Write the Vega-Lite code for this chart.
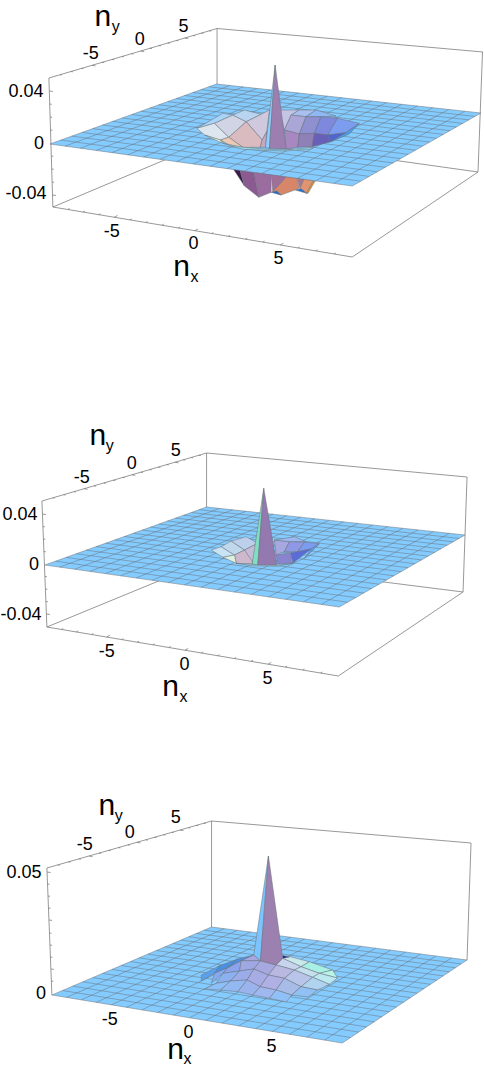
{"$schema":"https://vega.github.io/schema/vega-lite/v6.json","width":484,"height":1067,"padding":0,"autosize":{"type":"fit","contains":"padding"},"config":{"view":{"stroke":null}},
"datasets":{
"frame":[
{"x":49,"y":78,"x2":217.5,"y2":28.5},{"x":217.5,"y":28.5,"x2":484,"y2":52},{"x":217.5,"y":28.5,"x2":217.5,"y2":84},{"x":49,"y":78,"x2":53,"y2":207},{"x":483.5,"y":52,"x2":479,"y2":172},{"x":53,"y":207,"x2":353,"y2":257},{"x":353,"y":257,"x2":479,"y2":172},{"x":53,"y":207,"x2":222,"y2":136},{"x":222,"y":136,"x2":479,"y2":172},
{"x":42,"y":501,"x2":207,"y2":453},{"x":207,"y":453,"x2":468,"y2":477},{"x":207,"y":453,"x2":207,"y2":507},{"x":42,"y":501,"x2":47,"y2":627},{"x":468,"y":477,"x2":464,"y2":592},{"x":47,"y":627,"x2":339,"y2":676},{"x":339,"y":676,"x2":464,"y2":592},{"x":47,"y":627,"x2":210,"y2":560},{"x":210,"y":560,"x2":464,"y2":592},
{"x":47,"y":868,"x2":212,"y2":821},{"x":212,"y":821,"x2":472,"y2":843},{"x":212,"y":821,"x2":212,"y2":927},{"x":47,"y":868,"x2":52,"y2":995},{"x":472,"y":843,"x2":468,"y2":960},
{"x":68,"y":209.5,"x2":69.8,"y2":208.5},{"x":83.3,"y":212.1,"x2":85.1,"y2":211.1},{"x":98.9,"y":214.7,"x2":100.7,"y2":213.7},{"x":114.5,"y":217.3,"x2":117.7,"y2":215.5},{"x":130.1,"y":219.9,"x2":131.9,"y2":218.9},{"x":146,"y":222.5,"x2":147.8,"y2":221.5},{"x":162.2,"y":225.2,"x2":164,"y2":224.2},{"x":178.7,"y":228,"x2":180.5,"y2":227},{"x":195.2,"y":230.7,"x2":198.4,"y2":228.9},{"x":212,"y":233.5,"x2":213.8,"y2":232.5},{"x":228.8,"y":236.3,"x2":230.6,"y2":235.3},{"x":245.9,"y":239.2,"x2":247.7,"y2":238.2},{"x":263.3,"y":242.1,"x2":265.1,"y2":241.1},{"x":280.7,"y":245,"x2":283.9,"y2":243.2},{"x":298.4,"y":247.9,"x2":300.2,"y2":246.9},{"x":316.4,"y":250.9,"x2":318.2,"y2":249.9},{"x":334.7,"y":254,"x2":336.5,"y2":253},
{"x":61.6,"y":629.5,"x2":63.4,"y2":628.5},{"x":76.5,"y":631.9,"x2":78.3,"y2":630.9},{"x":91.7,"y":634.5,"x2":93.5,"y2":633.5},{"x":106.9,"y":637,"x2":110.1,"y2":635.2},{"x":122,"y":639.6,"x2":123.8,"y2":638.6},{"x":137.5,"y":642.2,"x2":139.3,"y2":641.2},{"x":153.3,"y":644.8,"x2":155.1,"y2":643.8},{"x":169.3,"y":647.5,"x2":171.1,"y2":646.5},{"x":185.4,"y":650.2,"x2":188.6,"y2":648.4},{"x":201.8,"y":653,"x2":203.6,"y2":652},{"x":218.1,"y":655.7,"x2":219.9,"y2":654.7},{"x":234.8,"y":658.5,"x2":236.6,"y2":657.5},{"x":251.7,"y":661.3,"x2":253.5,"y2":660.3},{"x":268.6,"y":664.2,"x2":271.8,"y2":662.4},{"x":285.9,"y":667.1,"x2":287.7,"y2":666.1},{"x":303.4,"y":670,"x2":305.2,"y2":669},{"x":321.2,"y":673,"x2":323,"y2":672},
{"x":60.1,"y":74.7,"x2":62.1,"y2":75},{"x":71.1,"y":71.5,"x2":73.1,"y2":71.8},{"x":81.7,"y":68.4,"x2":83.7,"y2":68.7},{"x":92.1,"y":65.3,"x2":95.6,"y2":65.9},{"x":102.4,"y":62.3,"x2":104.4,"y2":62.6},{"x":112.4,"y":59.4,"x2":114.4,"y2":59.7},{"x":122.1,"y":56.5,"x2":124.1,"y2":56.8},{"x":131.7,"y":53.7,"x2":133.7,"y2":54},{"x":141,"y":51,"x2":144.5,"y2":51.6},{"x":150.3,"y":48.2,"x2":152.3,"y2":48.5},{"x":159.2,"y":45.6,"x2":161.2,"y2":45.9},{"x":168.1,"y":43,"x2":170.1,"y2":43.3},{"x":176.7,"y":40.5,"x2":178.7,"y2":40.8},{"x":185.1,"y":38,"x2":188.6,"y2":38.6},{"x":193.6,"y":35.5,"x2":195.6,"y2":35.8},{"x":201.7,"y":33.1,"x2":203.7,"y2":33.4},{"x":209.6,"y":30.8,"x2":211.6,"y2":31.1},
{"x":52.9,"y":497.8,"x2":54.9,"y2":498.1},{"x":63.6,"y":494.7,"x2":65.6,"y2":495},{"x":74,"y":491.7,"x2":76,"y2":492},{"x":84.2,"y":488.7,"x2":87.7,"y2":489.3},{"x":94.3,"y":485.8,"x2":96.3,"y2":486.1},{"x":104,"y":483,"x2":106,"y2":483.3},{"x":113.6,"y":480.2,"x2":115.6,"y2":480.5},{"x":123,"y":477.4,"x2":125,"y2":477.7},{"x":132.1,"y":474.8,"x2":135.6,"y2":475.4},{"x":141.2,"y":472.2,"x2":143.2,"y2":472.5},{"x":149.9,"y":469.6,"x2":151.9,"y2":469.9},{"x":158.7,"y":467.1,"x2":160.7,"y2":467.4},{"x":167.1,"y":464.6,"x2":169.1,"y2":464.9},{"x":175.3,"y":462.2,"x2":178.8,"y2":462.8},{"x":183.6,"y":459.8,"x2":185.6,"y2":460.1},{"x":191.5,"y":457.5,"x2":193.5,"y2":457.8},{"x":199.2,"y":455.3,"x2":201.2,"y2":455.6},
{"x":57.9,"y":864.9,"x2":59.9,"y2":865.2},{"x":68.6,"y":861.8,"x2":70.6,"y2":862.1},{"x":79,"y":858.9,"x2":81,"y2":859.2},{"x":89.2,"y":856,"x2":92.7,"y2":856.6},{"x":99.3,"y":853.1,"x2":101.3,"y2":853.4},{"x":109,"y":850.3,"x2":111,"y2":850.6},{"x":118.6,"y":847.6,"x2":120.6,"y2":847.9},{"x":128,"y":844.9,"x2":130,"y2":845.2},{"x":137.1,"y":842.3,"x2":140.6,"y2":842.9},{"x":146.2,"y":839.8,"x2":148.2,"y2":840.1},{"x":154.9,"y":837.3,"x2":156.9,"y2":837.6},{"x":163.7,"y":834.8,"x2":165.7,"y2":835.1},{"x":172.1,"y":832.4,"x2":174.1,"y2":832.7},{"x":180.3,"y":830,"x2":183.8,"y2":830.6},{"x":188.6,"y":827.7,"x2":190.6,"y2":828},{"x":196.5,"y":825.4,"x2":198.5,"y2":825.7},{"x":204.2,"y":823.2,"x2":206.2,"y2":823.5},
{"x":49.4,"y":91,"x2":52.9,"y2":91.5},{"x":49.8,"y":104,"x2":51.8,"y2":104.3},{"x":50.2,"y":117,"x2":52.2,"y2":117.3},{"x":50.6,"y":130,"x2":52.6,"y2":130.3},{"x":51.4,"y":156,"x2":53.4,"y2":156.3},{"x":51.8,"y":169,"x2":53.8,"y2":169.3},{"x":52.2,"y":182,"x2":54.2,"y2":182.3},{"x":52.6,"y":195,"x2":56.1,"y2":195.5},
{"x":42.5,"y":514,"x2":46,"y2":514.5},{"x":42.9,"y":526.5,"x2":44.9,"y2":526.8},{"x":43.4,"y":539,"x2":45.4,"y2":539.3},{"x":43.9,"y":551.5,"x2":45.9,"y2":551.8},{"x":45,"y":576.5,"x2":47,"y2":576.8},{"x":45.5,"y":589,"x2":47.5,"y2":589.3},{"x":46,"y":601.5,"x2":48,"y2":601.8},{"x":46.5,"y":614,"x2":50,"y2":614.5},
{"x":47.2,"y":872,"x2":50.7,"y2":872.5},{"x":47.6,"y":884,"x2":49.6,"y2":884.3},{"x":48.1,"y":896,"x2":50.1,"y2":896.3},{"x":48.6,"y":908,"x2":50.6,"y2":908.3},{"x":49.1,"y":920,"x2":52.1,"y2":920.4},{"x":49.6,"y":933,"x2":51.6,"y2":933.3},{"x":50.1,"y":945,"x2":52.1,"y2":945.3},{"x":50.5,"y":957,"x2":52.5,"y2":957.3},{"x":51,"y":969,"x2":54,"y2":969.4},{"x":51.5,"y":981,"x2":53.5,"y2":981.3}
],
"back":[
{"p":"h01","i":0,"x":233.3,"y":168.3},{"p":"h01","i":1,"x":240,"y":168.3},{"p":"h01","i":2,"x":245,"y":186},
{"p":"h02","i":0,"x":240,"y":168.3},{"p":"h02","i":1,"x":254,"y":170},{"p":"h02","i":2,"x":259.3,"y":197.3},{"p":"h02","i":3,"x":245,"y":186},
{"p":"h03","i":0,"x":254,"y":170},{"p":"h03","i":1,"x":271.7,"y":173.3},{"p":"h03","i":2,"x":271.7,"y":192.3},{"p":"h03","i":3,"x":259.3,"y":197.3},
{"p":"h04","i":0,"x":271.7,"y":173.3},{"p":"h04","i":1,"x":287.3,"y":176.7},{"p":"h04","i":2,"x":273.3,"y":191.7},
{"p":"h05","i":0,"x":287.3,"y":176.7},{"p":"h05","i":1,"x":296.7,"y":176.7},{"p":"h05","i":2,"x":300,"y":188.3},{"p":"h05","i":3,"x":281.7,"y":195},{"p":"h05","i":4,"x":273.3,"y":191.7},
{"p":"h06","i":0,"x":296.7,"y":175},{"p":"h06","i":1,"x":305,"y":178.3},{"p":"h06","i":2,"x":300.7,"y":188.3},
{"p":"h07","i":0,"x":305,"y":178.3},{"p":"h07","i":1,"x":314,"y":180.7},{"p":"h07","i":2,"x":307.3,"y":193.3},{"p":"h07","i":3,"x":300.7,"y":188.3},
{"p":"h08","i":0,"x":271.7,"y":192.3},{"p":"h08","i":1,"x":277.3,"y":191},{"p":"h08","i":2,"x":281.7,"y":195},
{"p":"h09","i":0,"x":296,"y":190},{"p":"h09","i":1,"x":301.7,"y":188.7},{"p":"h09","i":2,"x":307.3,"y":193.3},
{"p":"h10","i":0,"x":314,"y":180.7},{"p":"h10","i":1,"x":316,"y":180.7},{"p":"h10","i":2,"x":308.7,"y":193.3},{"p":"h10","i":3,"x":307.3,"y":193.3},
{"p":"s1","i":0,"x":50,"y":144},{"p":"s1","i":1,"x":217,"y":84},{"p":"s1","i":2,"x":482,"y":113},{"p":"s1","i":3,"x":353,"y":186},
{"p":"s2","i":0,"x":45,"y":565},{"p":"s2","i":1,"x":207,"y":507},{"p":"s2","i":2,"x":466,"y":535},{"p":"s2","i":3,"x":340,"y":607},
{"p":"s3","i":0,"x":52,"y":995},{"p":"s3","i":1,"x":212,"y":927},{"p":"s3","i":2,"x":468,"y":960},{"p":"s3","i":3,"x":343,"y":1043}
],
"grid":[
{"x":65.2,"y":146.1,"x2":230.3,"y2":85.5},{"x":80.6,"y":148.2,"x2":243.8,"y2":86.9},{"x":96.4,"y":150.4,"x2":257.5,"y2":88.4},{"x":112.1,"y":152.6,"x2":271.3,"y2":89.9},{"x":127.9,"y":154.8,"x2":285.1,"y2":91.5},{"x":143.9,"y":157,"x2":299.2,"y2":93},{"x":160.3,"y":159.3,"x2":313.5,"y2":94.6},{"x":177,"y":161.6,"x2":328,"y2":96.2},{"x":193.6,"y":163.9,"x2":342.6,"y2":97.7},{"x":210.6,"y":166.3,"x2":357.5,"y2":99.4},{"x":227.6,"y":168.6,"x2":372.3,"y2":101},{"x":244.8,"y":171,"x2":387.4,"y2":102.6},{"x":262.4,"y":173.4,"x2":402.8,"y2":104.3},{"x":280,"y":175.9,"x2":418.1,"y2":106},{"x":297.9,"y":178.4,"x2":433.8,"y2":107.7},{"x":316,"y":180.9,"x2":449.7,"y2":109.5},{"x":334.5,"y":183.4,"x2":465.8,"y2":111.2},
{"x":61,"y":140,"x2":361.5,"y2":181.2},{"x":71.9,"y":136.1,"x2":369.9,"y2":176.4},{"x":82.4,"y":132.4,"x2":378,"y2":171.8},{"x":92.8,"y":128.6,"x2":386,"y2":167.3},{"x":102.9,"y":125,"x2":393.9,"y2":162.9},{"x":112.8,"y":121.4,"x2":401.5,"y2":158.6},{"x":122.5,"y":118,"x2":409,"y2":154.3},{"x":132,"y":114.5,"x2":416.3,"y2":150.2},{"x":141.2,"y":111.2,"x2":423.4,"y2":146.1},{"x":150.4,"y":107.9,"x2":430.5,"y2":142.1},{"x":159.2,"y":104.8,"x2":437.4,"y2":138.3},{"x":168.1,"y":101.6,"x2":444.2,"y2":134.4},{"x":176.6,"y":98.5,"x2":450.8,"y2":130.7},{"x":184.9,"y":95.5,"x2":457.2,"y2":127},{"x":193.3,"y":92.5,"x2":463.7,"y2":123.4},{"x":201.3,"y":89.6,"x2":469.9,"y2":119.9},{"x":209.2,"y":86.8,"x2":475.9,"y2":116.4},
{"x":59.8,"y":567.1,"x2":220,"y2":508.4},{"x":74.8,"y":569.2,"x2":233.2,"y2":509.8},{"x":90.1,"y":571.4,"x2":246.6,"y2":511.3},{"x":105.5,"y":573.6,"x2":260.1,"y2":512.7},{"x":120.8,"y":575.8,"x2":273.6,"y2":514.2},{"x":136.5,"y":578,"x2":287.3,"y2":515.7},{"x":152.4,"y":580.3,"x2":301.3,"y2":517.2},{"x":168.6,"y":582.6,"x2":315.5,"y2":518.7},{"x":184.8,"y":584.9,"x2":329.8,"y2":520.3},{"x":201.4,"y":587.3,"x2":344.3,"y2":521.8},{"x":217.9,"y":589.6,"x2":358.8,"y2":523.4},{"x":234.7,"y":592,"x2":373.5,"y2":525},{"x":251.8,"y":594.4,"x2":388.6,"y2":526.6},{"x":268.9,"y":596.9,"x2":403.6,"y2":528.3},{"x":286.3,"y":599.4,"x2":418.9,"y2":529.9},{"x":304,"y":601.9,"x2":434.4,"y2":531.6},{"x":322,"y":604.4,"x2":450.2,"y2":533.3},
{"x":55.7,"y":561.2,"x2":348.3,"y2":602.2},{"x":66.2,"y":557.4,"x2":356.5,"y2":597.6},{"x":76.4,"y":553.7,"x2":364.4,"y2":593},{"x":86.5,"y":550.2,"x2":372.3,"y2":588.6},{"x":96.4,"y":546.6,"x2":379.9,"y2":584.2},{"x":105.9,"y":543.2,"x2":387.4,"y2":579.9},{"x":115.3,"y":539.8,"x2":394.7,"y2":575.8},{"x":124.5,"y":536.5,"x2":401.9,"y2":571.6},{"x":133.5,"y":533.3,"x2":408.8,"y2":567.7},{"x":142.4,"y":530.1,"x2":415.7,"y2":563.7},{"x":150.9,"y":527.1,"x2":422.4,"y2":559.9},{"x":159.5,"y":524,"x2":429.1,"y2":556.1},{"x":167.8,"y":521,"x2":435.5,"y2":552.4},{"x":175.9,"y":518.1,"x2":441.8,"y2":548.8},{"x":184,"y":515.2,"x2":448.1,"y2":545.2},{"x":191.8,"y":512.5,"x2":454.2,"y2":541.8},{"x":199.4,"y":509.7,"x2":460.1,"y2":538.4},
{"x":66.6,"y":997.4,"x2":224.8,"y2":928.7},{"x":81.4,"y":999.8,"x2":237.9,"y2":930.3},{"x":96.5,"y":1002.3,"x2":251.2,"y2":932},{"x":111.7,"y":1004.8,"x2":264.5,"y2":933.8},{"x":126.8,"y":1007.3,"x2":277.8,"y2":935.5},{"x":142.2,"y":1009.9,"x2":291.4,"y2":937.2},{"x":157.9,"y":1012.5,"x2":305.2,"y2":939},{"x":173.9,"y":1015.1,"x2":319.3,"y2":940.8},{"x":189.9,"y":1017.8,"x2":333.3,"y2":942.6},{"x":206.2,"y":1020.4,"x2":347.7,"y2":944.5},{"x":222.5,"y":1023.1,"x2":362,"y2":946.3},{"x":239.1,"y":1025.9,"x2":376.6,"y2":948.2},{"x":256,"y":1028.6,"x2":391.5,"y2":950.1},{"x":272.9,"y":1031.4,"x2":406.3,"y2":952},{"x":290,"y":1034.3,"x2":421.4,"y2":954},{"x":307.5,"y":1037.1,"x2":436.8,"y2":956},{"x":325.2,"y":1040.1,"x2":452.4,"y2":958},
{"x":62.6,"y":990.5,"x2":351.3,"y2":1037.5},{"x":73,"y":986.1,"x2":359.4,"y2":1032.1},{"x":83,"y":981.8,"x2":367.3,"y2":1026.9},{"x":93,"y":977.6,"x2":375,"y2":1021.8},{"x":102.7,"y":973.4,"x2":382.6,"y2":1016.7},{"x":112.2,"y":969.4,"x2":390,"y2":1011.8},{"x":121.4,"y":965.5,"x2":397.3,"y2":1007},{"x":130.6,"y":961.6,"x2":404.4,"y2":1002.2},{"x":139.4,"y":957.9,"x2":411.3,"y2":997.7},{"x":148.2,"y":954.1,"x2":418.1,"y2":993.1},{"x":156.6,"y":950.5,"x2":424.8,"y2":988.7},{"x":165.1,"y":946.9,"x2":431.4,"y2":984.3},{"x":173.3,"y":943.5,"x2":437.8,"y2":980.1},{"x":181.3,"y":940.1,"x2":444,"y2":975.9},{"x":189.3,"y":936.7,"x2":450.3,"y2":971.8},{"x":197,"y":933.4,"x2":456.3,"y2":967.8},{"x":204.5,"y":930.2,"x2":462.1,"y2":963.9}
],
"top":[
{"p":"a00","i":0,"x":197.3,"y":128.3},{"p":"a00","i":1,"x":223.3,"y":113.3},{"p":"a00","i":2,"x":233.3,"y":115},{"p":"a00","i":3,"x":215,"y":123.3},
{"p":"a01","i":0,"x":197.3,"y":128.3},{"p":"a01","i":1,"x":215,"y":123.3},{"p":"a01","i":2,"x":229.3,"y":137.3},{"p":"a01","i":3,"x":220.7,"y":140},{"p":"a01","i":4,"x":205,"y":135},
{"p":"a02","i":0,"x":215,"y":123.3},{"p":"a02","i":1,"x":233.3,"y":115},{"p":"a02","i":2,"x":246.7,"y":121.7},{"p":"a02","i":3,"x":229.3,"y":137.3},
{"p":"a03","i":0,"x":233.3,"y":115},{"p":"a03","i":1,"x":245,"y":110},{"p":"a03","i":2,"x":261.7,"y":114.3},{"p":"a03","i":3,"x":246.7,"y":121.7},
{"p":"a04","i":0,"x":246.7,"y":121.7},{"p":"a04","i":1,"x":261.7,"y":114.3},{"p":"a04","i":2,"x":270,"y":110},{"p":"a04","i":3,"x":267.3,"y":131.7},{"p":"a04","i":4,"x":262.7,"y":140},
{"p":"a05","i":0,"x":229.3,"y":137.3},{"p":"a05","i":1,"x":246.7,"y":121.7},{"p":"a05","i":2,"x":262.7,"y":140},{"p":"a05","i":3,"x":260.7,"y":147.3},{"p":"a05","i":4,"x":243.3,"y":147.3},
{"p":"a06","i":0,"x":220.7,"y":140},{"p":"a06","i":1,"x":229.3,"y":137.3},{"p":"a06","i":2,"x":243.3,"y":147.3},{"p":"a06","i":3,"x":230,"y":145},
{"p":"a07","i":0,"x":205,"y":135},{"p":"a07","i":1,"x":220.7,"y":140},{"p":"a07","i":2,"x":223.3,"y":143.3},
{"p":"a08","i":0,"x":260.7,"y":147.3},{"p":"a08","i":1,"x":262.7,"y":140},{"p":"a08","i":2,"x":267.3,"y":131.7},{"p":"a08","i":3,"x":266,"y":147.3},
{"p":"a09","i":0,"x":280,"y":110},{"p":"a09","i":1,"x":300,"y":110},{"p":"a09","i":2,"x":291.7,"y":115},{"p":"a09","i":3,"x":285,"y":130},
{"p":"a10","i":0,"x":291.7,"y":115},{"p":"a10","i":1,"x":300,"y":110},{"p":"a10","i":2,"x":316.7,"y":110},{"p":"a10","i":3,"x":306.7,"y":116.7},
{"p":"a11","i":0,"x":316.7,"y":110},{"p":"a11","i":1,"x":336.7,"y":116},{"p":"a11","i":2,"x":321.7,"y":116.7},{"p":"a11","i":3,"x":306.7,"y":116.7},
{"p":"a12","i":0,"x":285,"y":130},{"p":"a12","i":1,"x":291.7,"y":115},{"p":"a12","i":2,"x":306.7,"y":116.7},{"p":"a12","i":3,"x":300,"y":134},
{"p":"a13","i":0,"x":306.7,"y":116.7},{"p":"a13","i":1,"x":321.7,"y":116.7},{"p":"a13","i":2,"x":315,"y":133.3},{"p":"a13","i":3,"x":300,"y":134},
{"p":"a14","i":0,"x":321.7,"y":116.7},{"p":"a14","i":1,"x":338.3,"y":118.3},{"p":"a14","i":2,"x":328.3,"y":135},{"p":"a14","i":3,"x":315,"y":133.3},
{"p":"a15","i":0,"x":338.3,"y":118.3},{"p":"a15","i":1,"x":360,"y":123.3},{"p":"a15","i":2,"x":346.7,"y":132.7},{"p":"a15","i":3,"x":328.3,"y":135},
{"p":"a16","i":0,"x":285,"y":130},{"p":"a16","i":1,"x":300,"y":134},{"p":"a16","i":2,"x":298.3,"y":147.3},{"p":"a16","i":3,"x":286.7,"y":149},
{"p":"a17","i":0,"x":300,"y":134},{"p":"a17","i":1,"x":315,"y":133.3},{"p":"a17","i":2,"x":312.7,"y":146.7},{"p":"a17","i":3,"x":298.3,"y":147.3},
{"p":"a18","i":0,"x":315,"y":133.3},{"p":"a18","i":1,"x":328.3,"y":135},{"p":"a18","i":2,"x":331.7,"y":141.7},{"p":"a18","i":3,"x":312.7,"y":146.7},
{"p":"a19","i":0,"x":328.3,"y":135},{"p":"a19","i":1,"x":346.7,"y":132.7},{"p":"a19","i":2,"x":331.7,"y":141.7},
{"p":"a20","i":0,"x":331.7,"y":141.7},{"p":"a20","i":1,"x":346.7,"y":132.7},{"p":"a20","i":2,"x":360,"y":123.3},{"p":"a20","i":3,"x":350,"y":134},
{"p":"a21","i":0,"x":223.3,"y":143.3},{"p":"a21","i":1,"x":243.3,"y":147.3},{"p":"a21","i":2,"x":270,"y":149.3},{"p":"a21","i":3,"x":286.7,"y":150},{"p":"a21","i":4,"x":312.7,"y":147.3},{"p":"a21","i":5,"x":312.7,"y":148.7},{"p":"a21","i":6,"x":286.7,"y":151},{"p":"a21","i":7,"x":243.3,"y":149.3},
{"p":"a22","i":0,"x":275.7,"y":65},{"p":"a22","i":1,"x":266,"y":147.3},{"p":"a22","i":2,"x":270,"y":148.3},
{"p":"a23","i":0,"x":275.7,"y":65},{"p":"a23","i":1,"x":270,"y":148.3},{"p":"a23","i":2,"x":286.7,"y":149},
{"p":"b01","i":0,"x":211.7,"y":550},{"p":"b01","i":1,"x":221.7,"y":546.7},{"p":"b01","i":2,"x":235,"y":555},{"p":"b01","i":3,"x":223.3,"y":557.3},
{"p":"b02","i":0,"x":221.7,"y":546.7},{"p":"b02","i":1,"x":231.7,"y":541},{"p":"b02","i":2,"x":245,"y":550},{"p":"b02","i":3,"x":235,"y":555},
{"p":"b03","i":0,"x":231.7,"y":541},{"p":"b03","i":1,"x":246.7,"y":536.7},{"p":"b03","i":2,"x":258.3,"y":543.3},{"p":"b03","i":3,"x":245,"y":550},
{"p":"b04","i":0,"x":235,"y":555},{"p":"b04","i":1,"x":245,"y":550},{"p":"b04","i":2,"x":253.3,"y":560},{"p":"b04","i":3,"x":252.7,"y":564},{"p":"b04","i":4,"x":236.7,"y":563.3},
{"p":"b05","i":0,"x":245,"y":550},{"p":"b05","i":1,"x":258.3,"y":543.3},{"p":"b05","i":2,"x":253.3,"y":562},
{"p":"b06","i":0,"x":223.3,"y":557.3},{"p":"b06","i":1,"x":235,"y":555},{"p":"b06","i":2,"x":236.7,"y":563.3},
{"p":"b07","i":0,"x":275,"y":540},{"p":"b07","i":1,"x":290,"y":541.7},{"p":"b07","i":2,"x":285,"y":551.7},{"p":"b07","i":3,"x":276.7,"y":555},
{"p":"b08","i":0,"x":275,"y":540},{"p":"b08","i":1,"x":295,"y":536.7},{"p":"b08","i":2,"x":306.7,"y":541.7},{"p":"b08","i":3,"x":290,"y":541.7},
{"p":"b09","i":0,"x":290,"y":541.7},{"p":"b09","i":1,"x":305,"y":542.3},{"p":"b09","i":2,"x":298.3,"y":551.7},{"p":"b09","i":3,"x":285,"y":551.7},
{"p":"b10","i":0,"x":305,"y":542.3},{"p":"b10","i":1,"x":320,"y":543.3},{"p":"b10","i":2,"x":311.7,"y":549},{"p":"b10","i":3,"x":298.3,"y":551.7},
{"p":"b11","i":0,"x":276.7,"y":555},{"p":"b11","i":1,"x":291.7,"y":552.7},{"p":"b11","i":2,"x":291.7,"y":563.3},{"p":"b11","i":3,"x":278.3,"y":564},
{"p":"b12","i":0,"x":291.7,"y":552.7},{"p":"b12","i":1,"x":298.3,"y":551.7},{"p":"b12","i":2,"x":311.7,"y":549},{"p":"b12","i":3,"x":293.3,"y":563.3},
{"p":"b13","i":0,"x":311.7,"y":549},{"p":"b13","i":1,"x":320,"y":544},{"p":"b13","i":2,"x":305,"y":558.3},
{"p":"b14","i":0,"x":236.7,"y":563.3},{"p":"b14","i":1,"x":252.7,"y":564.3},{"p":"b14","i":2,"x":277.3,"y":565.3},{"p":"b14","i":3,"x":293.3,"y":563.3},{"p":"b14","i":4,"x":277.3,"y":566.3},{"p":"b14","i":5,"x":252.7,"y":565.7},
{"p":"b15","i":0,"x":264.3,"y":488.3},{"p":"b15","i":1,"x":252.7,"y":564},{"p":"b15","i":2,"x":258.3,"y":565},
{"p":"b16","i":0,"x":264.3,"y":488.3},{"p":"b16","i":1,"x":258.3,"y":565},{"p":"b16","i":2,"x":277.3,"y":565},
{"p":"c01","i":0,"x":283.3,"y":958.3},{"p":"c01","i":1,"x":301.7,"y":966.7},{"p":"c01","i":2,"x":310,"y":961.7},{"p":"c01","i":3,"x":288.3,"y":956},
{"p":"c02","i":0,"x":301.7,"y":966.7},{"p":"c02","i":1,"x":320,"y":973.3},{"p":"c02","i":2,"x":333.3,"y":970},{"p":"c02","i":3,"x":310,"y":961.7},
{"p":"c03","i":0,"x":320,"y":973.3},{"p":"c03","i":1,"x":338.3,"y":978},{"p":"c03","i":2,"x":333.3,"y":970},
{"p":"c04","i":0,"x":201.7,"y":981},{"p":"c04","i":1,"x":215,"y":973.3},{"p":"c04","i":2,"x":220,"y":965.7},{"p":"c04","i":3,"x":201.7,"y":975},
{"p":"c05","i":0,"x":215,"y":973.3},{"p":"c05","i":1,"x":228.3,"y":967.7},{"p":"c05","i":2,"x":238,"y":959},{"p":"c05","i":3,"x":220,"y":965.7},
{"p":"c06","i":0,"x":228.3,"y":967.7},{"p":"c06","i":1,"x":241.7,"y":960.7},{"p":"c06","i":2,"x":254.3,"y":955},{"p":"c06","i":3,"x":238,"y":959},
{"p":"c07","i":0,"x":241.7,"y":960.7},{"p":"c07","i":1,"x":261,"y":960.7},{"p":"c07","i":2,"x":254.3,"y":955},
{"p":"c08","i":0,"x":276.7,"y":965},{"p":"c08","i":1,"x":295,"y":970},{"p":"c08","i":2,"x":301.7,"y":966.7},{"p":"c08","i":3,"x":283.3,"y":958.3},
{"p":"c09","i":0,"x":295,"y":970},{"p":"c09","i":1,"x":313.3,"y":977.3},{"p":"c09","i":2,"x":320,"y":973.3},{"p":"c09","i":3,"x":301.7,"y":966.7},
{"p":"c10","i":0,"x":313.3,"y":977.3},{"p":"c10","i":1,"x":330,"y":984.3},{"p":"c10","i":2,"x":338.3,"y":978},{"p":"c10","i":3,"x":320,"y":973.3},
{"p":"c11","i":0,"x":211.7,"y":983.3},{"p":"c11","i":1,"x":223.3,"y":973.3},{"p":"c11","i":2,"x":228.3,"y":967.7},{"p":"c11","i":3,"x":215,"y":973.3},
{"p":"c12","i":0,"x":223.3,"y":973.3},{"p":"c12","i":1,"x":240,"y":971},{"p":"c12","i":2,"x":241.7,"y":960.7},{"p":"c12","i":3,"x":228.3,"y":967.7},
{"p":"c13","i":0,"x":240,"y":971},{"p":"c13","i":1,"x":254.3,"y":969},{"p":"c13","i":2,"x":261,"y":960.7},{"p":"c13","i":3,"x":241.7,"y":960.7},
{"p":"c14","i":0,"x":254.3,"y":969},{"p":"c14","i":1,"x":269,"y":975},{"p":"c14","i":2,"x":276.7,"y":965},{"p":"c14","i":3,"x":261,"y":960.7},
{"p":"c15","i":0,"x":269,"y":975},{"p":"c15","i":1,"x":285,"y":978.3},{"p":"c15","i":2,"x":295,"y":970},{"p":"c15","i":3,"x":276.7,"y":965},
{"p":"c16","i":0,"x":285,"y":978.3},{"p":"c16","i":1,"x":301.7,"y":986.7},{"p":"c16","i":2,"x":313.3,"y":977.3},{"p":"c16","i":3,"x":295,"y":970},
{"p":"c17","i":0,"x":301.7,"y":986.7},{"p":"c17","i":1,"x":318.3,"y":990},{"p":"c17","i":2,"x":330,"y":984.3},{"p":"c17","i":3,"x":313.3,"y":977.3},
{"p":"c18","i":0,"x":216.7,"y":983.3},{"p":"c18","i":1,"x":231,"y":981},{"p":"c18","i":2,"x":240,"y":971},{"p":"c18","i":3,"x":223.3,"y":973.3},
{"p":"c19","i":0,"x":231,"y":981},{"p":"c19","i":1,"x":247.7,"y":980},{"p":"c19","i":2,"x":254.3,"y":969},{"p":"c19","i":3,"x":240,"y":971},
{"p":"c20","i":0,"x":247.7,"y":980},{"p":"c20","i":1,"x":260.7,"y":986.7},{"p":"c20","i":2,"x":269,"y":975},{"p":"c20","i":3,"x":254.3,"y":969},
{"p":"c21","i":0,"x":260.7,"y":986.7},{"p":"c21","i":1,"x":276.7,"y":990},{"p":"c21","i":2,"x":285,"y":978.3},{"p":"c21","i":3,"x":269,"y":975},
{"p":"c22","i":0,"x":276.7,"y":990},{"p":"c22","i":1,"x":292.3,"y":995},{"p":"c22","i":2,"x":301.7,"y":986.7},{"p":"c22","i":3,"x":285,"y":978.3},
{"p":"c23","i":0,"x":292.3,"y":995},{"p":"c23","i":1,"x":309,"y":997},{"p":"c23","i":2,"x":318.3,"y":990},{"p":"c23","i":3,"x":301.7,"y":986.7},
{"p":"c24","i":0,"x":205,"y":989},{"p":"c24","i":1,"x":221,"y":990},{"p":"c24","i":2,"x":231,"y":981},{"p":"c24","i":3,"x":216.7,"y":983.3},
{"p":"c25","i":0,"x":221,"y":990},{"p":"c25","i":1,"x":238.3,"y":991.7},{"p":"c25","i":2,"x":247.7,"y":980},{"p":"c25","i":3,"x":231,"y":981},
{"p":"c26","i":0,"x":238.3,"y":991.7},{"p":"c26","i":1,"x":253.3,"y":995},{"p":"c26","i":2,"x":260.7,"y":986.7},{"p":"c26","i":3,"x":247.7,"y":980},
{"p":"c27","i":0,"x":253.3,"y":995},{"p":"c27","i":1,"x":270,"y":998.3},{"p":"c27","i":2,"x":276.7,"y":990},{"p":"c27","i":3,"x":260.7,"y":986.7},
{"p":"c28","i":0,"x":270,"y":998.3},{"p":"c28","i":1,"x":287,"y":1002},{"p":"c28","i":2,"x":292.3,"y":995},{"p":"c28","i":3,"x":276.7,"y":990},
{"p":"c41","i":0,"x":283.3,"y":955.5},{"p":"c41","i":1,"x":290,"y":957},{"p":"c41","i":2,"x":283.3,"y":958.3},
{"p":"c42","i":0,"x":269,"y":856},{"p":"c42","i":1,"x":254.3,"y":955},{"p":"c42","i":2,"x":261,"y":960.7},
{"p":"c43","i":0,"x":269,"y":856},{"p":"c43","i":1,"x":261,"y":960.7},{"p":"c43","i":2,"x":276.7,"y":965},{"p":"c43","i":3,"x":283.3,"y":958.3}
],
"labels":[
{"label":"-5","x":91,"y":54},{"label":"0","x":140,"y":40},{"label":"5","x":184,"y":27},{"label":"0.04","x":26,"y":92},{"label":"0","x":39,"y":144},{"label":"-0.04","x":26,"y":194},{"label":"-5","x":112,"y":232},{"label":"0","x":194,"y":244},{"label":"5","x":279,"y":259},
{"label":"-5","x":82,"y":478},{"label":"0","x":132,"y":464},{"label":"5","x":176,"y":451},{"label":"0.04","x":20,"y":515},{"label":"0","x":34,"y":565},{"label":"-0.04","x":21,"y":615},{"label":"-5","x":107,"y":652},{"label":"0","x":185,"y":665},{"label":"5","x":268,"y":679},
{"label":"-5","x":85,"y":845},{"label":"0","x":130,"y":833},{"label":"5","x":176,"y":818},{"label":"0.05","x":24,"y":873},{"label":"0","x":41,"y":994},{"label":"-5","x":110,"y":1020},{"label":"0","x":189,"y":1033},{"label":"5","x":272,"y":1047}
],
"big":[{"label":"n","x":103,"y":17},{"label":"n","x":182,"y":267},{"label":"n","x":98,"y":436},{"label":"n","x":171,"y":687},{"label":"n","x":107,"y":806},{"label":"n","x":176,"y":1050}],
"sub":[{"label":"y","x":116,"y":27},{"label":"x","x":195,"y":277},{"label":"y","x":110,"y":446},{"label":"x","x":184,"y":697},{"label":"y","x":119,"y":816},{"label":"x","x":188,"y":1059}]
},
"encoding":{"x":{"field":"x","type":"quantitative","scale":{"domain":[0,484]},"axis":null},"y":{"field":"y","type":"quantitative","scale":{"domain":[1067,0]},"axis":null}},
"layer":[
{"data":{"name":"frame"},"mark":{"type":"rule","stroke":"#7d7d7d","strokeWidth":0.8},"encoding":{"x2":{"field":"x2"},"y2":{"field":"y2"}}},
{"data":{"name":"back"},"mark":{"type":"line","interpolate":"linear-closed","stroke":"#6a7078","strokeWidth":0.5},"encoding":{"order":{"field":"i","type":"quantitative"},"fill":{"field":"p","type":"nominal","legend":null,"scale":{"domain":["h01","h02","h03","h04","h05","h06","h07","h08","h09","h10","s1","s2","s3"],"range":["#3a1a48","#8a5a90","#9a6ca0","#a07098","#d8866a","#a87890","#e09470","#1f6fd0","#1f6fd0","#e0982c","#84ccff","#84ccff","#84ccff"]}}}},
{"data":{"name":"grid"},"mark":{"type":"rule","stroke":"#6a7078","strokeWidth":0.5},"encoding":{"x2":{"field":"x2"},"y2":{"field":"y2"}}},
{"data":{"name":"top"},"mark":{"type":"line","interpolate":"linear-closed","stroke":"#6a7078","strokeWidth":0.5},"encoding":{"order":{"field":"i","type":"quantitative"},"fill":{"field":"p","type":"nominal","legend":null,"scale":{
"domain":["a00","a01","a02","a03","a04","a05","a06","a07","a08","a09","a10","a11","a12","a13","a14","a15","a16","a17","a18","a19","a20","a21","a22","a23","b01","b02","b03","b04","b05","b06","b07","b08","b09","b10","b11","b12","b13","b14","b15","b16","c01","c02","c03","c04","c05","c06","c07","c08","c09","c10","c11","c12","c13","c14","c15","c16","c17","c18","c19","c20","c21","c22","c23","c24","c25","c26","c27","c28","c41","c42","c43"],
"range":["#a8d4f8","#dde6ee","#d0d4e4","#b8d4f0","#d0c8dc","#dabcc0","#ecc9b4","#eef8dc","#c8a8c0","#c4c4e4","#a8c0f0","#90b8f4","#aaa6d6","#8e90d0","#7e88dc","#7c9cf0","#a888c0","#9080b8","#6860b8","#4f66d0","#4a9ce8","#9be0ec","#8ccfff","#9c7fb0",
"#c8e4f4","#c0d8ec","#bcd0ec","#ceb8cc","#c4bcd8","#e0f0e0","#a8a8e0","#9cb8f0","#8f98e4","#7c9cf0","#8a84d0","#5a6cd8","#5c9cf0","#9be0ec","#7fe0c0","#9478b0",
"#c8e8ec","#a8f0e4","#b8f4e8","#5aa0ec","#4a90e0","#5090e8","#a8a8e0","#c8d4ec","#c4e0ec","#bce8f0","#88a8f0","#8ca4ec","#a0a8e4","#a8a8e0","#b8b8e0","#b8c4e8","#b0d4f0","#8cb0f0","#9cacea","#a8ace4","#b0b0e4","#a8bce8","#90c0f4","#8cc0f8","#94b8f2","#9cb4ee","#a0b8f0","#90c0f6","#1a1a90","#7cc4ff","#9c80b0"]}}}},
{"data":{"name":"labels"},"mark":{"type":"text","font":"Liberation Sans","fontSize":18,"align":"center","baseline":"middle","color":"#000"},"encoding":{"text":{"field":"label"}}},
{"data":{"name":"big"},"mark":{"type":"text","font":"Liberation Sans","fontSize":30,"align":"center","baseline":"middle","color":"#000"},"encoding":{"text":{"field":"label"}}},
{"data":{"name":"sub"},"mark":{"type":"text","font":"Liberation Sans","fontSize":16,"align":"center","baseline":"middle","color":"#000"},"encoding":{"text":{"field":"label"}}}
],
"resolve":{"scale":{"fill":"independent"}}
}
